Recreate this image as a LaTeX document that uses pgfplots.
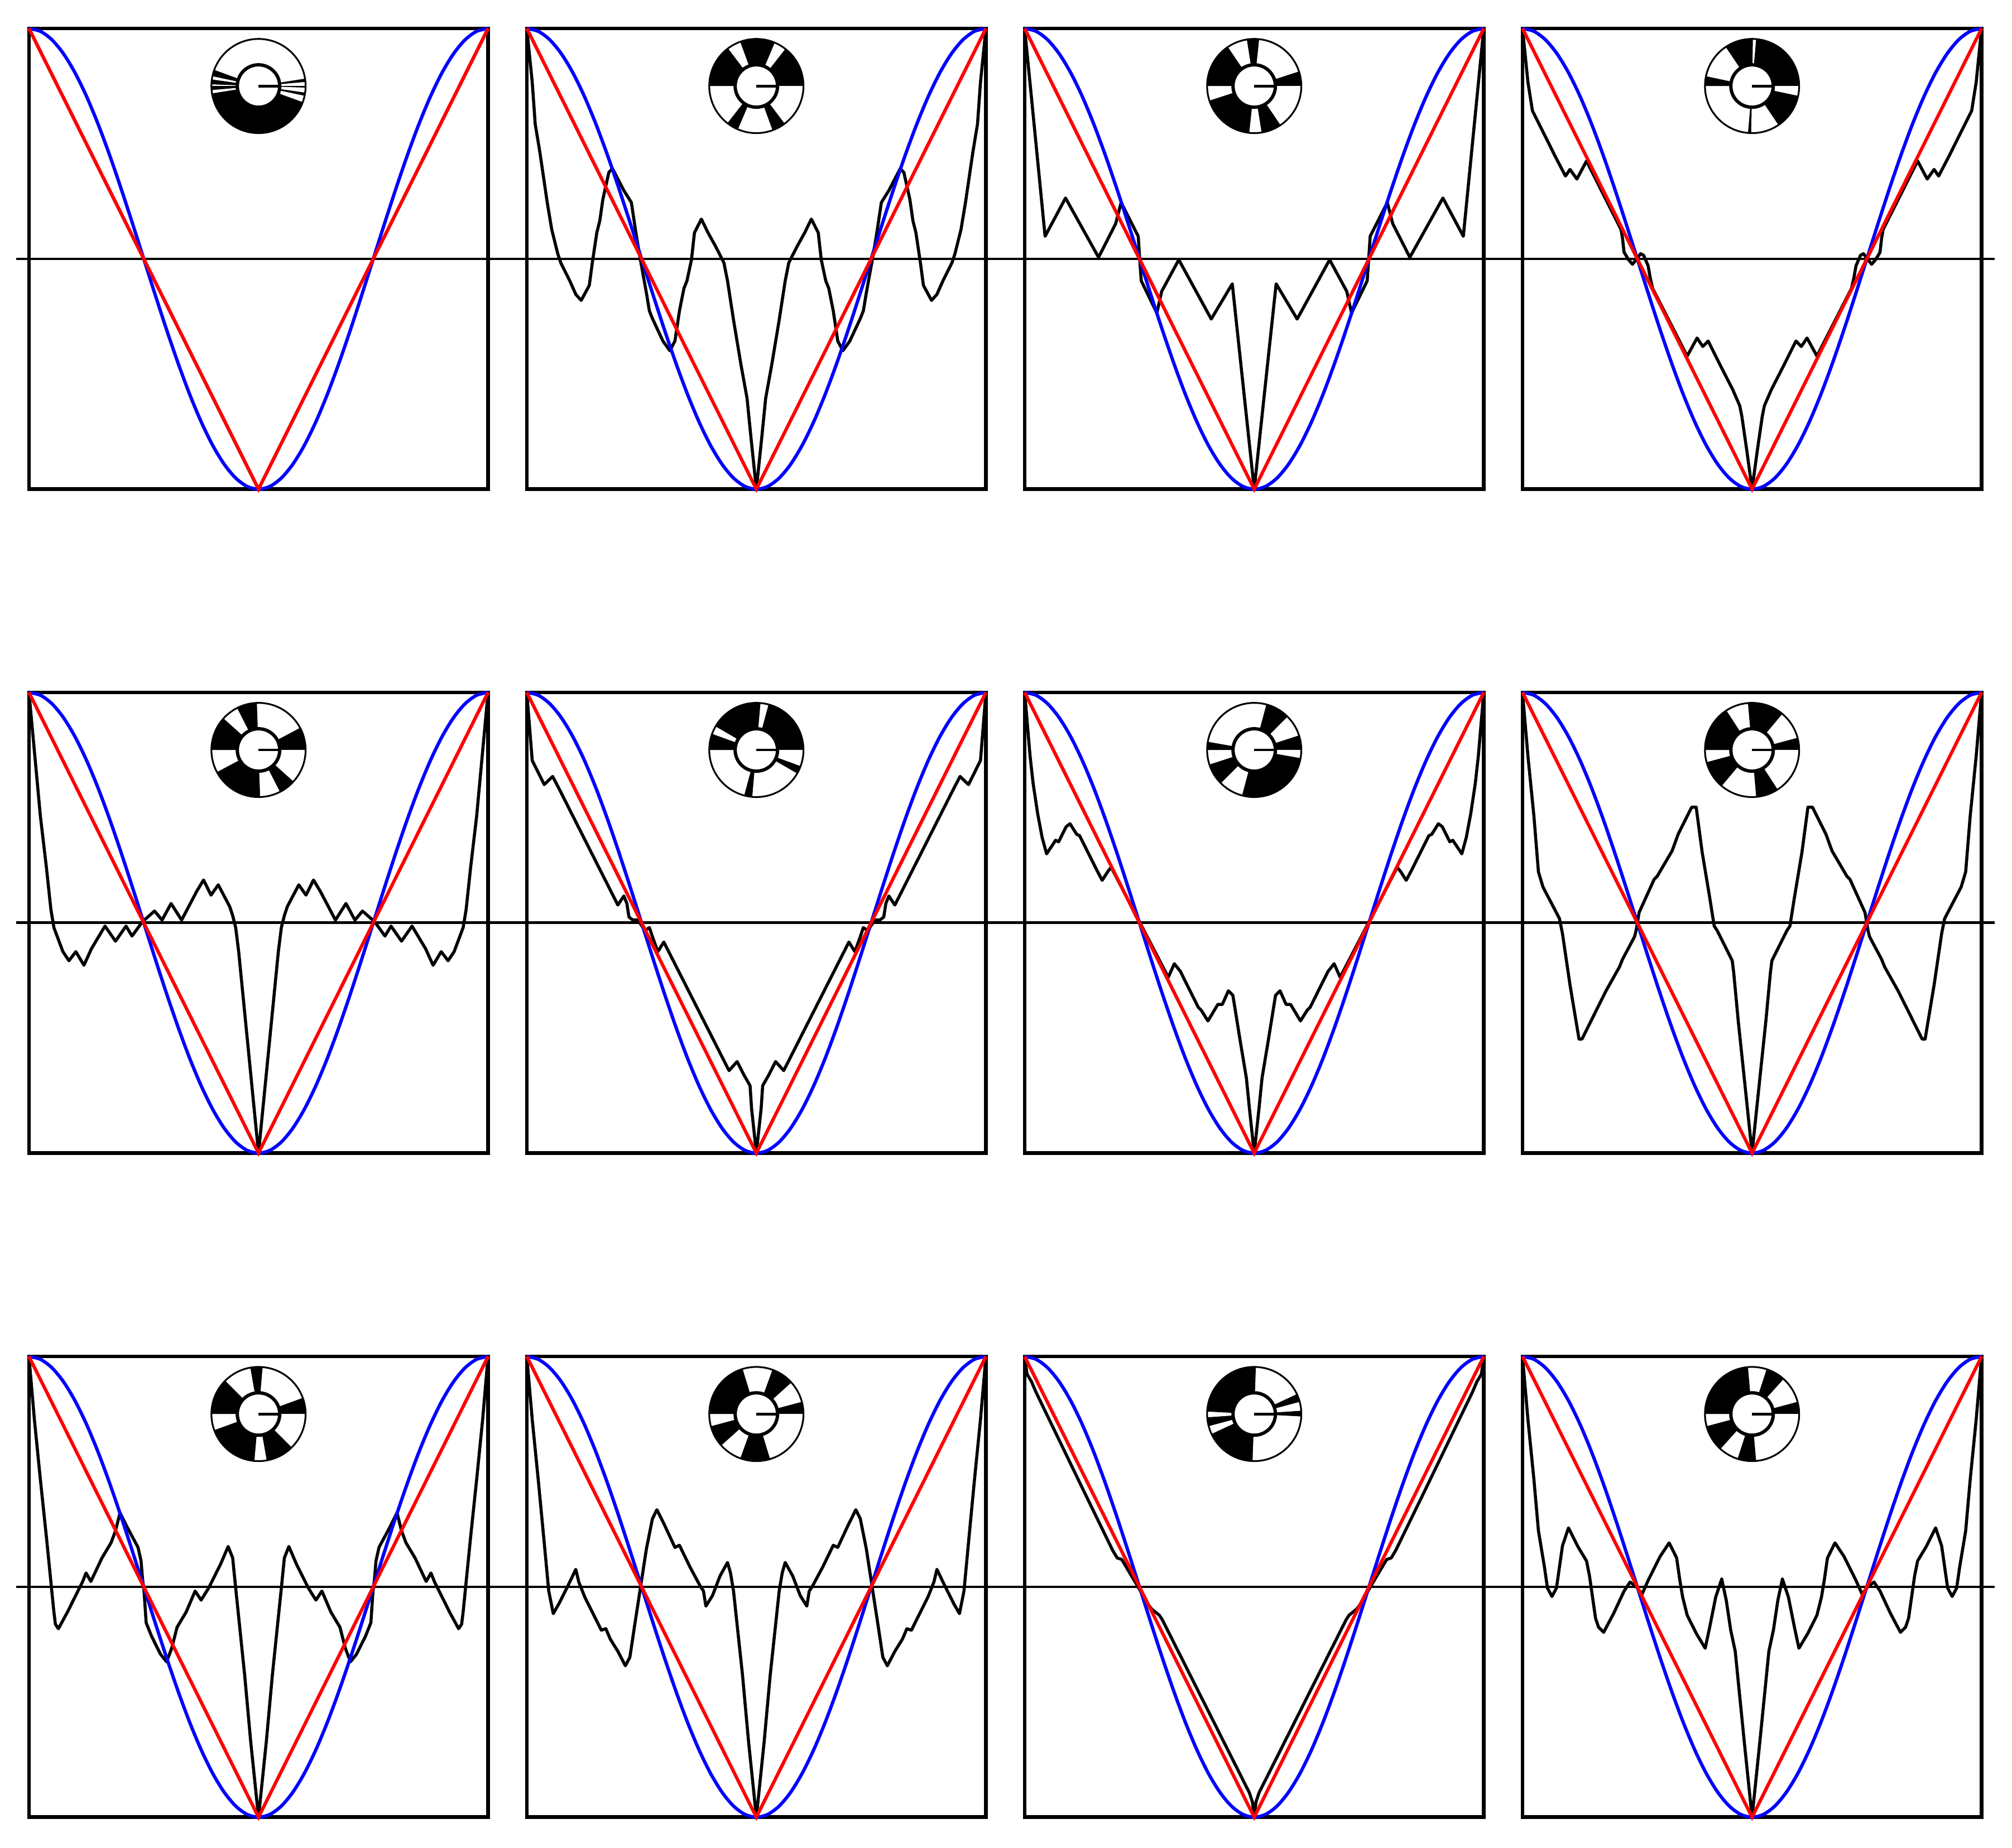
\documentclass[border=0pt]{standalone}
\usepackage{pgfplots}
\pgfplotsset{compat=1.18}
\usepackage{pgfplotstable}

\pgfplotstableread{
x y
-764 765
-725.8 755.6
-687.6 727.6
-649.4 681.6
-611.2 618.9
-573 540.9
-534.8 449.7
-496.6 347.3
-458.4 236.4
-420.2 119.7
-382 0
-343.8 -119.7
-305.6 -236.4
-267.4 -347.3
-229.2 -449.7
-191 -540.9
-152.8 -618.9
-114.6 -681.6
-76.4 -727.6
-38.2 -755.6
0 -765
38.2 -755.6
76.4 -727.6
114.6 -681.6
152.8 -618.9
191 -540.9
229.2 -449.7
267.4 -347.3
305.6 -236.4
343.8 -119.7
382 0
420.2 119.7
458.4 236.4
496.6 347.3
534.8 449.7
573 540.9
611.2 618.9
649.4 681.6
687.6 727.6
725.8 755.6
764 765
}\bluetab

\pgfplotstableread{
x y
-764 765
0 -765
764 765
}\redtab

\pgfplotsset{panel/.style={scale only axis, width=4.113cm, height=4.128cm,
  xmin=-764, xmax=764, ymin=-765, ymax=765, ticks=none, clip=false,
  anchor=south west, axis line style={line width=0.95pt}},
  blk/.style={black, line width=0.78pt, line join=round},
  bl/.style={blue, line width=0.85pt, smooth},
  rd/.style={red, line width=0.85pt}}

\def\rin{0.19cm}
\def\rout{0.422cm}
\newcommand{\zl}[2]{\draw[line width=0.68pt] (axis cs:#1,0) -- (axis cs:#2,0);}
\newcommand{\ringsector}[3]{\fill[#1] (#2:\rin) arc[start angle=#2,end angle=#3,radius=\rin] -- (#3:\rout) arc[start angle=#3,end angle=#2,radius=\rout] -- cycle;}
\newcommand{\ringicon}[2]{%
 \begin{scope}[shift={(#1)}]
  \ringsector{black}{180}{360}
  \foreach \a/\b in {#2}{%
    \pgfmathsetmacro{\c}{\a+180}\pgfmathsetmacro{\d}{\b+180}%
    \ringsector{white}{\c}{\d}%
    \ringsector{black}{\a}{\b}}
  \draw[line width=0.45pt] (0,0) circle[radius=\rout];
  \draw[line width=0.85pt,fill=white] (0,0) circle[radius=\rin];
  \draw[line width=0.68pt] (0,0) -- (\rin,0);
 \end{scope}}

\begin{document}
\begin{tikzpicture}
\path[use as bounding box] (0,0) rectangle (18.025cm,16.555cm);

% ---------------- Row 1 ----------------
\begin{axis}[panel, at={(0.2595cm,12.1715cm)}]
\zl{-807}{834}
\addplot[blk] coordinates {(-764,765) (0,-765) (764,765)};
\addplot[bl] table {\bluetab};
\addplot[rd] table {\redtab};
\coordinate (i1) at (axis cs:0,574);
\end{axis}

\begin{axis}[panel, at={(4.7195cm,12.1715cm)}]
\zl{-834}{834}
\addplot[blk] coordinates {(-764,765) (-746,587) (-736,447) (-721,357) (-696,187) (-681,97) (-661,17) (-651,-13) (-621,-73) (-601,-118) (-583,-138) (-556,-88) (-546,-13) (-531,87) (-521,127) (-511,197) (-491,287) (-479,300) (-441,227) (-416,187) (-401,87) (-386,-3) (-366,-113) (-356,-173) (-346,-198) (-311,-273) (-288,-305) (-271,-273) (-256,-173) (-241,-98) (-231,-73) (-216,-3) (-206,87) (-183,132) (-161,87) (-136,42) (-108,-13) (-96,-73) (-76,-203) (-51,-353) (-31,-463) (-18,-593) (0,-765)
(18,-593) (31,-463) (51,-353) (76,-203) (96,-73) (108,-13) (136,42) (161,87) (183,132) (206,87) (216,-3) (231,-73) (241,-98) (256,-173) (271,-273) (288,-305) (311,-273) (346,-198) (356,-173) (366,-113) (386,-3) (401,87) (416,187) (441,227) (479,300) (491,287) (511,197) (521,127) (531,87) (546,-13) (556,-88) (583,-138) (601,-118) (621,-73) (651,-13) (661,17) (681,97) (696,187) (721,357) (736,447) (746,587) (764,765)};
\addplot[bl] table {\bluetab};
\addplot[rd] table {\redtab};
\coordinate (i2) at (axis cs:0,574);
\end{axis}

\begin{axis}[panel, at={(9.1795cm,12.1715cm)}]
\zl{-834}{834}
\addplot[blk] coordinates {(-764,765) (-696,75) (-628,202) (-518,5) (-461,117) (-443,187) (-386,75) (-381,-3) (-376,-73) (-324,-180) (-308,-108) (-251,-3) (-143,-200) (-73,-83) (0,-765)
(73,-83) (143,-200) (251,-3) (308,-108) (324,-180) (376,-73) (381,-3) (386,75) (443,187) (461,117) (518,5) (628,202) (696,75) (764,765)};
\addplot[bl] table {\bluetab};
\addplot[rd] table {\redtab};
\coordinate (i3) at (axis cs:0,574);
\end{axis}

\begin{axis}[panel, at={(13.6395cm,12.1715cm)}]
\zl{-834}{807}
\addplot[blk] coordinates {(-764,765) (-746,587) (-731,492) (-721,472) (-696,422) (-656,342) (-621,275) (-606,297) (-583,265) (-551,325) (-441,107) (-436,97) (-431,67) (-426,22) (-411,-3) (-398,-18) (-386,-3) (-371,17) (-361,12) (-346,-23) (-339,-63) (-331,-98) (-216,-323) (-183,-263) (-164,-291) (-146,-273) (-106,-353) (-64,-435) (-41,-488) (-34,-523) (-18,-633) (0,-765)
(18,-633) (34,-523) (41,-488) (64,-435) (106,-353) (146,-273) (164,-291) (183,-263) (216,-323) (331,-98) (339,-63) (346,-23) (361,12) (371,17) (386,-3) (398,-18) (411,-3) (426,22) (431,67) (436,97) (441,107) (551,325) (583,265) (606,297) (621,275) (656,342) (696,422) (721,472) (731,492) (746,587) (764,765)};
\addplot[bl] table {\bluetab};
\addplot[rd] table {\redtab};
\coordinate (i4) at (axis cs:0,574);
\end{axis}

% ---------------- Row 2 ----------------
\begin{axis}[panel, at={(0.2595cm,6.222cm)}]
\zl{-807}{834}
\addplot[blk] coordinates {(-764,765) (-726,354) (-706,184) (-691,44) (-681,-16) (-666,-56) (-651,-96) (-631,-126) (-608,-96) (-581,-141) (-556,-86) (-511,-11) (-476,-61) (-441,-11) (-421,-44) (-386,4) (-346,39) (-321,9) (-291,64) (-256,9) (-206,104) (-183,142) (-158,92) (-134,126) (-96,54) (-86,24) (-76,-16) (-66,-96) (0,-765)
(66,-96) (76,-16) (86,24) (96,54) (134,126) (158,92) (183,142) (206,104) (256,9) (291,64) (321,9) (346,39) (386,4) (421,-44) (441,-11) (476,-61) (511,-11) (556,-86) (581,-141) (608,-96) (631,-126) (651,-96) (666,-56) (681,-16) (691,44) (706,184) (726,354) (764,765)};
\addplot[bl] table {\bluetab};
\addplot[rd] table {\redtab};
\coordinate (i5) at (axis cs:0,574);
\end{axis}

\begin{axis}[panel, at={(4.7195cm,6.222cm)}]
\zl{-834}{834}
\addplot[blk] coordinates {(-764,765) (-746,539) (-706,459) (-678,486) (-656,444) (-461,59) (-441,89) (-431,64) (-424,19) (-411,9) (-396,9) (-386,-3) (-371,-26) (-356,-16) (-346,-46) (-328,-96) (-308,-64) (-91,-491) (-64,-461) (-41,-506) (-21,-541) (-16,-616) (0,-765)
(16,-616) (21,-541) (41,-506) (64,-461) (91,-491) (308,-64) (328,-96) (346,-46) (356,-16) (371,-26) (386,-3) (396,9) (411,9) (424,19) (431,64) (441,89) (461,59) (656,444) (678,486) (706,459) (746,539) (764,765)};
\addplot[bl] table {\bluetab};
\addplot[rd] table {\redtab};
\coordinate (i6) at (axis cs:0,574);
\end{axis}

\begin{axis}[panel, at={(9.1795cm,6.222cm)}]
\zl{-834}{834}
\addplot[blk] coordinates {(-764,765) (-746,554) (-736,464) (-721,364) (-706,284) (-691,229) (-661,274) (-651,269) (-626,319) (-613,329) (-591,294) (-581,289) (-551,229) (-526,179) (-506,141) (-486,172) (-476,184) (-286,-181) (-266,-136) (-246,-161) (-216,-221) (-186,-281) (-176,-291) (-154,-326) (-121,-271) (-106,-271) (-86,-226) (-71,-241) (-46,-396) (-26,-516) (-16,-616) (0,-765)
(16,-616) (26,-516) (46,-396) (71,-241) (86,-226) (106,-271) (121,-271) (154,-326) (176,-291) (186,-281) (216,-221) (246,-161) (266,-136) (286,-181) (476,184) (486,172) (506,141) (526,179) (551,229) (581,289) (591,294) (613,329) (626,319) (651,269) (661,274) (691,229) (706,284) (721,364) (736,464) (746,554) (764,765)};
\addplot[bl] table {\bluetab};
\addplot[rd] table {\redtab};
\coordinate (i7) at (axis cs:0,574);
\end{axis}

\begin{axis}[panel, at={(13.6395cm,6.222cm)}]
\zl{-834}{807}
\addplot[blk] coordinates {(-764,765) (-746,554) (-726,354) (-711,169) (-696,119) (-641,14) (-631,-36) (-606,-206) (-576,-386) (-566,-386) (-521,-296) (-486,-226) (-441,-146) (-431,-121) (-391,-46) (-386,-26) (-376,34) (-326,144) (-316,154) (-266,239) (-246,294) (-201,384) (-186,384) (-166,234) (-141,84) (-126,-11) (-116,-26) (-86,-86) (-66,-126) (-61,-166) (-46,-326) (-26,-516) (0,-765)
(26,-516) (46,-326) (61,-166) (66,-126) (86,-86) (116,-26) (126,-11) (141,84) (166,234) (186,384) (201,384) (246,294) (266,239) (316,154) (326,144) (376,34) (386,-26) (391,-46) (431,-121) (441,-146) (486,-226) (521,-296) (566,-386) (576,-386) (606,-206) (631,-36) (641,14) (696,119) (711,169) (726,354) (746,554) (764,765)};
\addplot[bl] table {\bluetab};
\addplot[rd] table {\redtab};
\coordinate (i8) at (axis cs:0,574);
\end{axis}

% ---------------- Row 3 ----------------
\begin{axis}[panel, at={(0.2595cm,0.2715cm)}]
\zl{-807}{834}
\addplot[blk] coordinates {(-764,765) (-746,556) (-726,356) (-706,166) (-691,16) (-681,-84) (-676,-124) (-666,-139) (-636,-84) (-606,-24) (-586,16) (-574,46) (-558,18) (-521,96) (-491,146) (-476,186) (-461,246) (-436,196) (-401,131) (-391,86) (-386,26) (-381,-14) (-374,-119) (-356,-164) (-326,-224) (-306,-249) (-289,-204) (-271,-134) (-241,-84) (-211,-14) (-191,-44) (-166,-4) (-126,76) (-101,134) (-86,96) (-76,-4) (-46,-294) (-26,-514) (0,-765)
(26,-514) (46,-294) (76,-4) (86,96) (101,134) (126,76) (166,-4) (191,-44) (211,-14) (241,-84) (271,-134) (289,-204) (306,-249) (326,-224) (356,-164) (374,-119) (381,-14) (386,26) (391,86) (401,131) (436,196) (461,246) (476,186) (491,146) (521,96) (558,18) (574,46) (586,16) (606,-24) (636,-84) (666,-139) (676,-124) (681,-84) (691,16) (706,166) (726,356) (746,556) (764,765)};
\addplot[bl] table {\bluetab};
\addplot[rd] table {\redtab};
\coordinate (i9) at (axis cs:0,574);
\end{axis}

\begin{axis}[panel, at={(4.7195cm,0.2715cm)}]
\zl{-834}{834}
\addplot[blk] coordinates {(-764,765) (-746,556) (-726,356) (-706,146) (-691,-14) (-676,-89) (-656,-54) (-626,6) (-601,58) (-591,16) (-571,-34) (-541,-94) (-516,-144) (-501,-139) (-486,-174) (-461,-214) (-436,-262) (-421,-234) (-406,-134) (-386,-4) (-366,126) (-346,226) (-331,256) (-306,206) (-271,131) (-256,138) (-221,66) (-186,1) (-176,-14) (-168,-64) (-146,-29) (-121,36) (-96,81) (-86,46) (-76,-14) (-46,-294) (-26,-514) (0,-765)
(26,-514) (46,-294) (76,-14) (86,46) (96,81) (121,36) (146,-29) (168,-64) (176,-14) (186,1) (221,66) (256,138) (271,131) (306,206) (331,256) (346,226) (366,126) (386,-4) (406,-134) (421,-234) (436,-262) (461,-214) (486,-174) (501,-139) (516,-144) (541,-94) (571,-34) (591,16) (601,58) (626,6) (656,-54) (676,-89) (691,-14) (706,146) (726,356) (746,556) (764,765)};
\addplot[bl] table {\bluetab};
\addplot[rd] table {\redtab};
\coordinate (i10) at (axis cs:0,574);
\end{axis}

\begin{axis}[panel, at={(9.1795cm,0.2715cm)}]
\zl{-834}{834}
\addplot[blk] coordinates {(-764,765) (-756,706) (-741,681) (-726,646) (-571,326) (-471,121) (-456,96) (-441,91) (-426,66) (-386,-1) (-356,-54) (-341,-74) (-316,-94) (-306,-109) (-16,-684) (-6,-714) (0,-765)
(6,-714) (16,-684) (306,-109) (316,-94) (341,-74) (356,-54) (386,-1) (426,66) (441,91) (456,96) (471,121) (571,326) (726,646) (741,681) (756,706) (764,765)};
\addplot[bl] table {\bluetab};
\addplot[rd] table {\redtab};
\coordinate (i11) at (axis cs:0,574);
\end{axis}

\begin{axis}[panel, at={(13.6395cm,0.2715cm)}]
\zl{-834}{807}
\addplot[blk] coordinates {(-764,765) (-746,556) (-726,356) (-711,186) (-691,66) (-681,-4) (-666,-32) (-651,-4) (-631,136) (-611,196) (-581,136) (-551,86) (-541,36) (-531,-34) (-521,-104) (-511,-134) (-494,-151) (-461,-89) (-426,-14) (-406,16) (-386,1) (-366,-24) (-346,21) (-306,101) (-276,146) (-251,96) (-241,26) (-231,-34) (-216,-94) (-186,-154) (-156,-204) (-141,-134) (-121,-34) (-101,26) (-86,-44) (-71,-144) (-56,-214) (-46,-314) (-26,-514) (0,-765)
(26,-514) (46,-314) (56,-214) (71,-144) (86,-44) (101,26) (121,-34) (141,-134) (156,-204) (186,-154) (216,-94) (231,-34) (241,26) (251,96) (276,146) (306,101) (346,21) (366,-24) (386,1) (406,16) (426,-14) (461,-89) (494,-151) (511,-134) (521,-104) (531,-34) (541,36) (551,86) (581,136) (611,196) (631,136) (651,-4) (666,-32) (681,-4) (691,66) (711,186) (726,356) (746,556) (764,765)};
\addplot[bl] table {\bluetab};
\addplot[rd] table {\redtab};
\coordinate (i12) at (axis cs:0,574);
\end{axis}

% ---------------- ring icons ----------------
\ringicon{i1}{5/9, 160/168, 172/178}
\ringicon{i2}{0/52, 67/110, 127/180}
\ringicon{i3}{0/18, 84/99, 124/180}
\ringicon{i4}{0/85, 89/124, 168/180}
\ringicon{i5}{0/28, 92/117, 138/180}
\ringicon{i6}{0/75, 85/150, 160/180}
\ringicon{i7}{0/18, 45/75, 170/180}
\ringicon{i8}{0/15, 50/95, 123/180}
\ringicon{i9}{0/20, 85/100, 135/180}
\ringicon{i10}{0/15, 42/70, 107/180}
\ringicon{i11}{0/4, 15/25, 88/177}
\ringicon{i12}{0/15, 48/72, 95/180}
\end{tikzpicture}
\end{document}
